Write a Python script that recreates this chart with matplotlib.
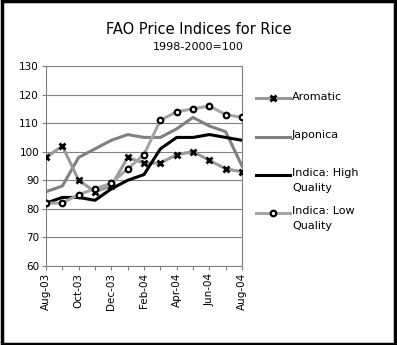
import numpy as np
import matplotlib.pyplot as plt
from matplotlib.patches import Rectangle
from matplotlib.lines import Line2D

months = ["Aug-03", "Sep-03", "Oct-03", "Nov-03", "Dec-03", "Jan-04", "Feb-04",
          "Mar-04", "Apr-04", "May-04", "Jun-04", "Jul-04", "Aug-04"]
aromatic = [98, 102, 90, 86, 88, 98, 96, 96, 99, 100, 97, 94, 93]
japonica = [86, 88, 98, 101, 104, 106, 105, 105, 108, 112, 109, 107, 95]
indica_high = [82, 84, 84, 83, 87, 90, 92, 101, 105, 105, 106, 105, 104]
indica_low = [82, 82, 85, 87, 89, 94, 99, 111, 114, 115, 116, 113, 112]

x = np.arange(len(months))

fig = plt.figure(figsize=(3.97, 3.45), dpi=100)
ax = fig.add_axes([46 / 397, 1 - 266 / 345, 196 / 397, 200 / 345])

styles = [
    ("Aromatic", aromatic, dict(color="#999999", lw=2.2, marker="x", ms=4.5,
                                mec="black", mew=2)),
    ("Japonica", japonica, dict(color="#808080", lw=2.2)),
    ("Indica: High\nQuality", indica_high, dict(color="black", lw=2.2)),
    ("Indica: Low\nQuality", indica_low, dict(color="#a6a6a6", lw=2.2, marker="o",
                                              ms=4, mfc="white", mec="black", mew=1.6)),
]
zorders = [3, 2, 3, 4]
for (name, vals, kw), z in zip(styles, zorders):
    ax.plot(x, vals, zorder=z, **kw)

ax.set_xlim(0, len(months) - 1)
ax.set_ylim(60, 130)
ax.set_yticks(range(60, 131, 10))
ax.set_xticks(x)
ax.set_xticklabels([m if i % 2 == 0 else "" for i, m in enumerate(months)],
                   rotation=90, fontsize=7.5)
ax.tick_params(axis="y", labelsize=7.5, length=3, color="#808080", pad=2)
ax.tick_params(axis="x", length=3, color="#808080", pad=2)
ax.grid(axis="y", color="#808080", lw=0.8)
ax.set_axisbelow(True)
for s in ax.spines.values():
    s.set_color("#808080")

fig.text(0.5, 1 - 30 / 345, "FAO Price Indices for Rice",
         ha="center", va="center", fontsize=10.5)
fig.text(0.5, 1 - 47 / 345, "1998-2000=100",
         ha="center", va="center", fontsize=8)

# legend drawn by hand so the key sits on the first line of each label
rows_y = [98, 137, 175, 213]
for (name, vals, kw), ry in zip(styles, rows_y):
    yf = 1 - ry / 345
    fig.add_artist(Line2D([256 / 397, 273 / 397, 290 / 397], [yf, yf, yf],
                          transform=fig.transFigure, markevery=[1], **kw))
    fig.text(292 / 397, yf + 6.5 / 345, name, ha="left", va="top", fontsize=8,
             linespacing=1.55)

fig.patches.append(Rectangle((0.004, 0.004), 0.992, 0.992, transform=fig.transFigure,
                             fill=False, ec="black", lw=2.5))

plt.savefig("out.png", dpi=100)
